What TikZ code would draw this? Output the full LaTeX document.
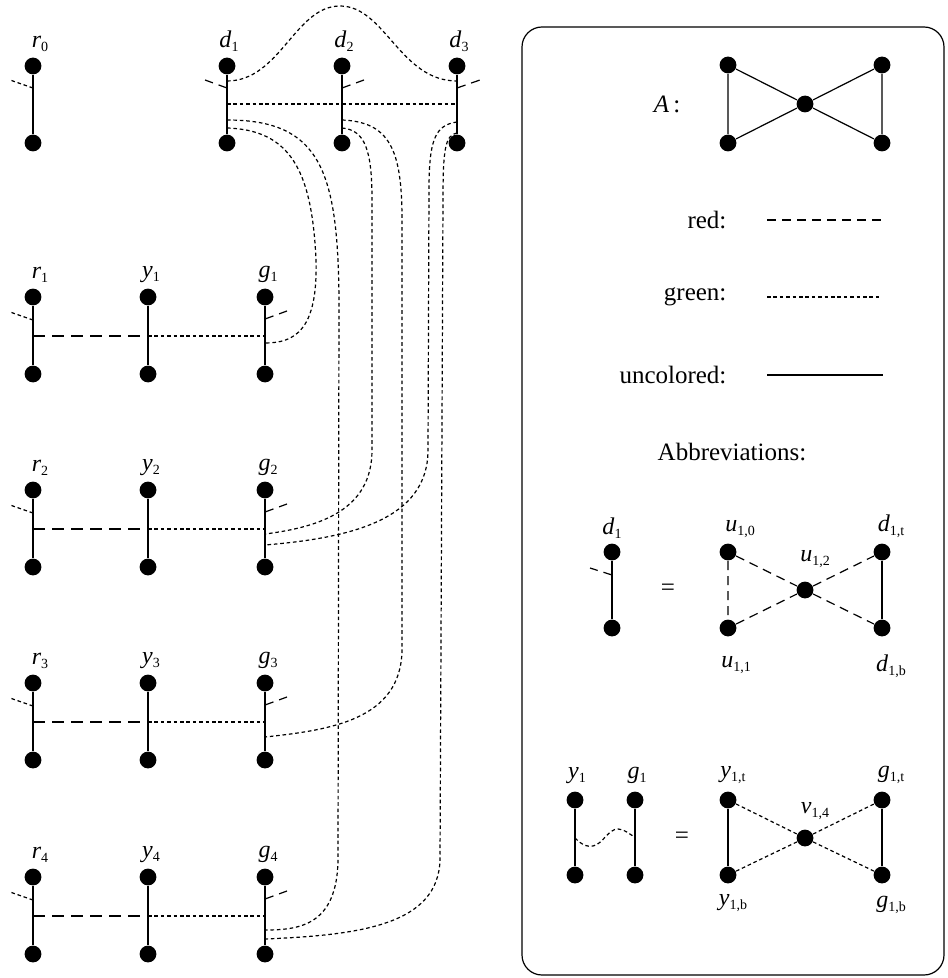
\documentclass[tikz,border=0pt]{standalone}
\usepackage{fontspec}
\setmainfont{Liberation Serif}
\newcommand{\vl}[2]{\textit{#1}\raisebox{-0.35ex}{\fontsize{7}{8}\selectfont #2}}
\begin{document}
\begin{tikzpicture}[x=0.5pt,y=-0.5pt,line width=0.6pt,
    font=\fontsize{12.5}{15}\selectfont,
    vtx/.style={circle,fill,inner sep=0pt,minimum size=8.4pt},
    redline/.style={dash pattern=on 4.5pt off 3pt},
    longred/.style={dash pattern=on 6pt off 3.5pt},
    greenline/.style={dash pattern=on 1.8pt off 1.4pt},
    every label/.style={inner sep=1.5pt,font=\fontsize{12}{14}\selectfont},
    label distance=1pt]
\useasboundingbox (0,0) rectangle (947,978);

\node[vtx,label={[xshift=3.5pt]above:\vl{r}{0}}] (r0-t) at (33,66) {};
\node[vtx] (r0-b) at (33,143) {};
\draw (r0-t) -- (r0-b);
\coordinate (r0-s) at (33,88);
\draw[greenline] (r0-s) -- ++(-23,-8);

\foreach \i/\x/\u/\l in {1/227/120/128,2/342/120/128,3/457/122/133}{
    \node[vtx,label={[xshift=1pt]above:\vl{d}{\i}}] (d\i-t) at (\x,66) {};
    \node[vtx] (d\i-b) at (\x,143) {};
    \draw (d\i-t) -- (d\i-b);
    \coordinate (d\i-s) at (\x,88);
    \coordinate (d\i-c) at (\x,81);
    \coordinate (d\i-h) at (\x,104);
    \coordinate (d\i-u) at (\x,\u);
    \coordinate (d\i-l) at (\x,\l);
}
\draw[redline] (d1-s) -- ++(-22,-8);
\draw[redline] (d2-s) -- ++(22,-8);
\draw[redline] (d3-s) -- ++(23,-8);
\draw[greenline] (d1-c) .. controls (280,81) and (295,6) .. (340,6) .. controls (385,6) and (400,81) .. (d3-c);
\draw[greenline] (d1-h) -- (d3-h);

\foreach \i/\y in {1/297,2/490,3/683,4/877}{
    \node[vtx,label={[xshift=3.5pt]above:\vl{r}{\i}}] (r\i-t) at (33,\y) {};
    \node[vtx] (r\i-b) at (33,\y+77) {};
    \node[vtx,label={[xshift=1.5pt]above:\vl{y}{\i}}] (y\i-t) at (148,\y) {};
    \node[vtx] (y\i-b) at (148,\y+77) {};
    \node[vtx,label={[xshift=1.5pt]above:\vl{g}{\i}}] (g\i-t) at (265,\y) {};
    \node[vtx] (g\i-b) at (265,\y+77) {};
    \draw (r\i-t) -- (r\i-b) (y\i-t) -- (y\i-b) (g\i-t) -- (g\i-b);
    \coordinate (r\i-s) at (33,\y+23);
    \coordinate (g\i-s) at (265,\y+22);
    \coordinate (r\i-m) at (33,\y+39);
    \coordinate (y\i-m) at (148,\y+39);
    \coordinate (g\i-m) at (265,\y+39);
    \draw[greenline] (r\i-s) -- ++(-23,-8);
    \draw[redline] (g\i-s) -- ++(22,-8);
    \draw[longred] (r\i-m) -- (y\i-m);
    \draw[greenline] (y\i-m) -- (g\i-m);
}
\coordinate (g1-p) at (265,343);
\coordinate (g2-p) at (265,534);
\coordinate (g2-q) at (265,545);
\coordinate (g3-p) at (265,737);
\coordinate (g4-p) at (265,930);
\coordinate (g4-q) at (265,939);

\draw[greenline] (d1-l) .. controls (290,130) and (312,170) .. (316,260) .. controls (318,330) and (295,343) .. (g1-p);
\draw[greenline] (d1-u) .. controls (320,120) and (338,170) .. (339,300) -- (338,860) .. controls (337,925) and (300,930) .. (g4-p);
\draw[greenline] (d2-l) .. controls (365,130) and (372,150) .. (372,200) -- (372,450) .. controls (372,510) and (320,527) .. (g2-p);
\draw[greenline] (d2-u) .. controls (390,122) and (402,150) .. (402,220) -- (402,650) .. controls (401,720) and (330,730) .. (g3-p);
\draw[greenline] (d3-u) .. controls (435,125) and (429,140) .. (429,190) -- (428,450) .. controls (428,520) and (350,538) .. (g2-q);
\draw[greenline] (d3-l) .. controls (445,135) and (443,150) .. (443,200) -- (440,860) .. controls (438,925) and (360,935) .. (g4-q);

\draw[rounded corners=10pt] (522,27) rectangle (944,975);

\node (A) at (667,104) {\textit{A}\,:};
\node[vtx] (a1) at (728,65) {};
\node[vtx] (a2) at (882,65) {};
\node[vtx] (a3) at (728,143) {};
\node[vtx] (a4) at (882,143) {};
\node[vtx] (ac) at (805,104) {};
\draw (a1) -- (a3) (a2) -- (a4) (a1) -- (ac) -- (a4) (a3) -- (ac) -- (a2);

\node[anchor=east,inner sep=0pt] (kr) at (727,220) {red:};
\node[anchor=east,inner sep=0pt] (kg) at (727,297) {green:};
\node[anchor=east,inner sep=0pt] (ku) at (727,375) {uncolored:};
\coordinate (kr1) at (767,220);
\coordinate (kr2) at (883,220);
\coordinate (kg1) at (767,297);
\coordinate (kg2) at (881,297);
\coordinate (ku1) at (767,375);
\coordinate (ku2) at (883,375);
\draw[redline] (kr1) -- (kr2);
\draw[greenline] (kg1) -- (kg2);
\draw (ku1) -- (ku2);

\node (abbr) at (732,452) {Abbreviations:};

\node[vtx,label={[label distance=0.5pt]above:\vl{d}{1}}] (e-t) at (612,552) {};
\node[vtx] (e-b) at (612,628) {};
\draw (e-t) -- (e-b);
\coordinate (e-s) at (612,575);
\draw[redline] (e-s) -- ++(-22,-7);
\node (eq1) at (668,590) {=};
\node[vtx,label={[xshift=6pt]above:\vl{u}{1,0}}] (u0) at (728,552) {};
\node[vtx,label={[xshift=4pt,label distance=8pt]below:\vl{u}{1,1}}] (u1) at (728,628) {};
\node[vtx,label={[xshift=5pt,label distance=5pt]above:\vl{u}{1,2}}] (u2) at (805,590) {};
\node[vtx,label={[xshift=4.5pt]above:\vl{d}{1,t}}] (dt) at (882,552) {};
\node[vtx,label={[xshift=4.5pt,label distance=7pt]below:\vl{d}{1,b}}] (db) at (882,628) {};
\draw[redline] (u0) -- (u1) (u0) -- (u2) (u1) -- (u2) (u2) -- (dt) (u2) -- (db);
\draw (dt) -- (db);

\node[vtx,label={[xshift=1pt,label distance=2pt]above:\vl{y}{1}}] (h1-t) at (575,800) {};
\node[vtx] (h1-b) at (575,875) {};
\node[vtx,label={[xshift=1pt,label distance=2pt]above:\vl{g}{1}}] (h2-t) at (635,800) {};
\node[vtx] (h2-b) at (635,875) {};
\draw (h1-t) -- (h1-b) (h2-t) -- (h2-b);
\coordinate (h1-m) at (575,838);
\coordinate (h2-m) at (635,837);
\draw[greenline] (h1-m) .. controls (583,846) and (588,847) .. (593,846) .. controls (603,844) and (608,829) .. (618,829) .. controls (625,829) and (630,835) .. (h2-m);
\node (eq2) at (682,838) {=};
\node[vtx,label={[xshift=2.5pt,label distance=2pt]above:\vl{y}{1,t}}] (yt) at (728,800) {};
\node[vtx,label={[xshift=2.5pt,label distance=3.5pt]below:\vl{y}{1,b}}] (yb) at (728,875) {};
\node[vtx,label={[xshift=5pt,label distance=3pt]above:\vl{v}{1,4}}] (v) at (805,838) {};
\node[vtx,label={[xshift=4.5pt,label distance=2pt]above:\vl{g}{1,t}}] (gt) at (882,800) {};
\node[vtx,label={[xshift=4.5pt,label distance=4.5pt]below:\vl{g}{1,b}}] (gb) at (882,875) {};
\draw (yt) -- (yb) (gt) -- (gb);
\draw[greenline] (yt) -- (v) -- (gb) (yb) -- (v) -- (gt);
\end{tikzpicture}
\end{document}
